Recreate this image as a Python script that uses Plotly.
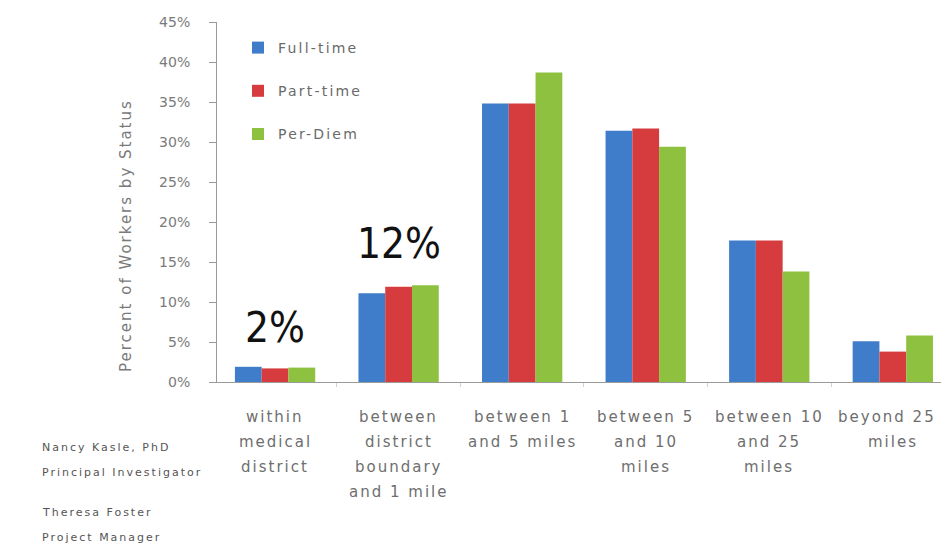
import plotly.graph_objects as go

# ---------------- data ----------------
categories = ["within medical district",
              "between district boundary and 1 mile",
              "between 1 and 5 miles",
              "between 5 and 10 miles",
              "between 10 and 25 miles",
              "beyond 25 miles"]
tick_labels = ["within<br>medical<br>district",
               "between<br>district<br>boundary<br>and 1 mile",
               "between 1<br>and 5 miles",
               "between 5<br>and 10<br>miles",
               "between 10<br>and 25<br>miles",
               "beyond 25<br>miles"]
full_time = [1.9, 11.1, 34.8, 31.4, 17.7, 5.1]
part_time = [1.7, 11.9, 34.8, 31.7, 17.7, 3.8]
per_diem = [1.8, 12.1, 38.7, 29.4, 13.8, 5.8]
series_names = ["Full-time", "Part-time", "Per-Diem"]
y_ticks = [0, 5, 10, 15, 20, 25, 30, 35, 40, 45]
y_tick_labels = ["0%", "5%", "10%", "15%", "20%", "25%", "30%", "35%", "40%", "45%"]
callouts = [("2%", 0, 6.8), ("12%", 1, 17.3)]
credits = ["Nancy Kasle, PhD", "Principal Investigator", "Theresa Foster", "Project Manager"]

# ---------------- layout helpers ----------------
W, H = 941, 544
L, R, T, B = 217, 941, 22, 382


def px_x(px):
    return (px - L) / (R - L)


def px_y(py):
    return (B - py) / (B - T)


colors = ["#3f7dcb", "#d63c3e", "#8dc13f"]
gray = "#7a7a7a"
label_font = dict(family="DejaVu Sans", size=15, color="#6e6e6e")

fig = go.Figure()
for i, (name, vals) in enumerate(zip(series_names, [full_time, part_time, per_diem])):
    fig.add_trace(go.Bar(
        x=categories, y=vals, name=name, legendgroup=name,
        marker=dict(color=colors[i], line=dict(width=0)),
    ))

annotations = []
# category labels (multi-line, custom line spacing)
for ci, (cat, lab) in enumerate(zip(categories, tick_labels)):
    for j, line in enumerate(lab.split("<br>")):
        a = dict(x=cat, xref="x", y=px_y(417 + 25 * j), yref="paper",
                 text=line, showarrow=False, xanchor="center", yanchor="middle",
                 font=label_font)
        if ci == len(categories) - 1 and j == 0:
            # keep the last wide label inside the picture
            a.update(x=px_x(938), xref="paper", xanchor="right", align="right")
        annotations.append(a)
# big call-out numbers
for txt, ci, yv in callouts:
    annotations.append(dict(
        x=categories[ci], xref="x", y=yv, yref="y", text=txt, showarrow=False,
        xanchor="center", yanchor="middle",
        font=dict(family="Liberation Sans Narrow, DejaVu Sans Condensed, sans-serif",
                  size=42, color="#111111"),
    ))
# y-axis title
annotations.append(dict(
    x=px_x(126), xref="paper", y=px_y(235), yref="paper",
    text="Percent of Workers by Status", textangle=-90, showarrow=False,
    xanchor="center", yanchor="middle",
    font=dict(family="DejaVu Sans", size=15, color="#7a7a7a"),
))
# credits
for txt, py in zip(credits, [447, 472, 512, 537]):
    annotations.append(dict(
        x=px_x(40), xref="paper", y=px_y(py), yref="paper", text=txt,
        showarrow=False, xanchor="left", yanchor="middle", align="left",
        font=dict(family="DejaVu Sans", size=11, color="#555555"),
    ))

fig.update_layout(
    width=W, height=H,
    margin=dict(l=L, r=W - R, t=T, b=H - B, autoexpand=False),
    paper_bgcolor="white", plot_bgcolor="white",
    barmode="group", bargap=0.35, bargroupgap=0,
    showlegend=True,
    legend=dict(x=px_x(238), y=px_y(32), xanchor="left", yanchor="top",
                tracegroupgap=22, bgcolor="rgba(0,0,0,0)",
                font=dict(family="DejaVu Sans", size=14, color="#6a6a6a")),
    annotations=annotations,
    font=dict(family="DejaVu Sans"),
)
fig.update_xaxes(
    type="category", range=[-0.47, 5.39], showticklabels=False,
    showline=True, linecolor="#9a9a9a", linewidth=1,
    ticks="outside", tickson="boundaries", ticklen=4, tickcolor="#d0d0d0",
    showgrid=False, zeroline=False, fixedrange=True,
)
fig.update_yaxes(
    range=[0, 45], tickvals=y_ticks, ticktext=y_tick_labels,
    showline=True, linecolor="#9a9a9a", linewidth=1,
    ticks="outside", ticklen=7, tickcolor="#9a9a9a", ticklabelstandoff=16,
    tickfont=dict(family="DejaVu Sans", size=14, color=gray),
    showgrid=False, zeroline=False, fixedrange=True,
)

post = """
document.body.style.margin = '0';
document.body.style.overflow = 'hidden';
var gd = document.getElementById('{plot_id}');
function spaceText() {
  gd.querySelectorAll('.legend .scrollbox').forEach(function (e) { e.removeAttribute('clip-path'); });
  gd.querySelectorAll('.legendtext').forEach(function (e) { e.style.letterSpacing = '2.2px'; });
  gd.querySelectorAll('.annotation-text').forEach(function (e) {
    if (e.style.fontSize !== '42px') { e.style.letterSpacing = '2px'; }
  });
}
spaceText();
if (gd.on) { gd.on('plotly_afterplot', spaceText); }
"""

fig.write_html("out.html", post_script=post,
               config={"displayModeBar": False, "staticPlot": True})
